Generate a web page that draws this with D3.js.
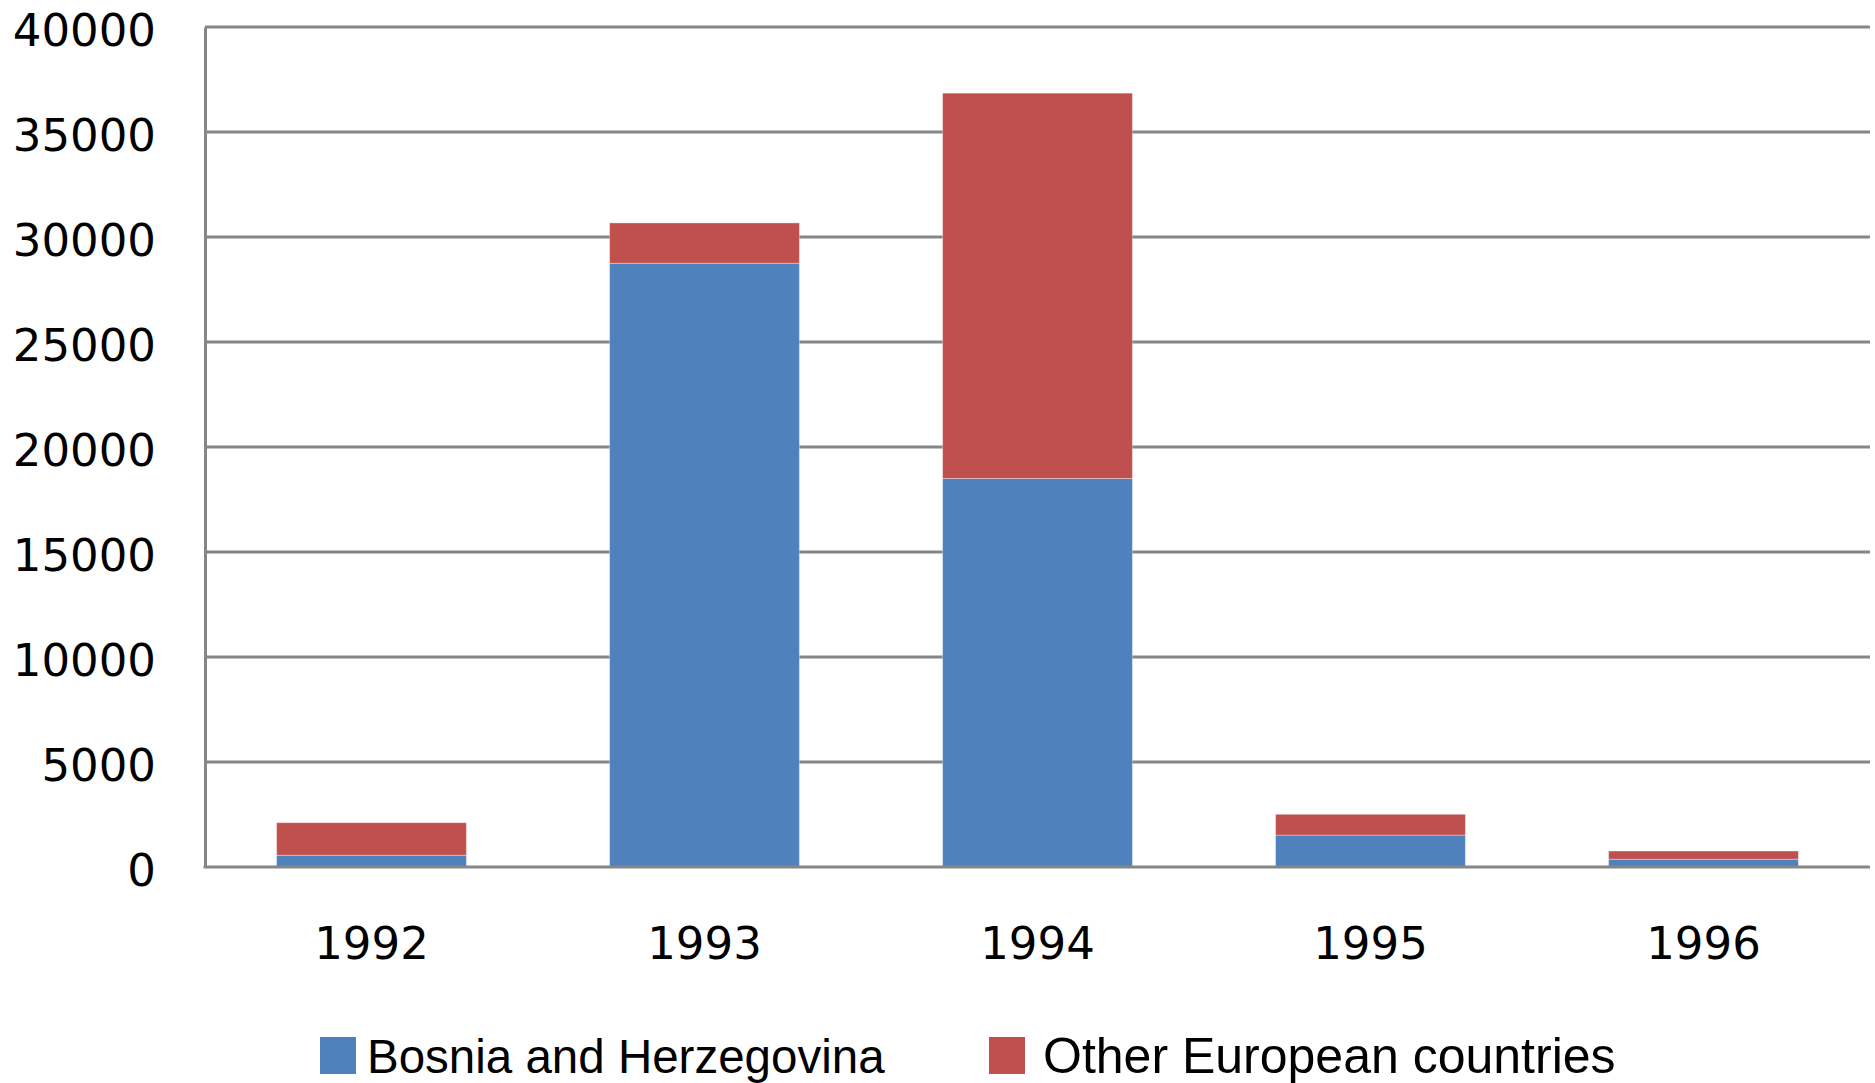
<!DOCTYPE html>
<html>
<head>
<meta charset="utf-8">
<script src="https://cdn.jsdelivr.net/npm/d3@7"></script>
<style>
  body { margin: 0; background: #fff; }
  .tick text { font-family: 'DejaVu Sans', sans-serif; }
</style>
</head>
<body>
<div id="graf"></div>
<script>
// datos del grafico
const years = ['1992', '1993', '1994', '1995', '1996']
const bosnia = [560, 28750, 18500, 1520, 370]
const otherEurope = [1550, 1920, 18350, 990, 390]
const seriesNames = ['Bosnia and Herzegovina', 'Other European countries']
const seriesColors = ['#4F81BD', '#C0504D']
const yTicks = [0, 5000, 10000, 15000, 20000, 25000, 30000, 35000, 40000]

const ancho_total = 1875, alto_total = 1083
const margen = { superior: 27, izquierdo: 205, derecho: 5, inferior: 216 }
const ancho = ancho_total - margen.izquierdo - margen.derecho
const alto = alto_total - margen.superior - margen.inferior

const svg = d3.select('#graf').append('svg')
  .attr('width', ancho_total)
  .attr('height', alto_total)

const g = svg.append('g')
  .attr('transform', `translate(${margen.izquierdo}, ${margen.superior})`)

const x = d3.scaleBand().domain(years).range([0, ancho]).paddingInner(0.43).paddingOuter(0.215)
const y = d3.scaleLinear().domain([0, 40000]).range([alto, 0])

// lineas de cuadricula
g.append('g')
  .selectAll('line')
  .data(yTicks.filter(d => d > 0))
  .join('line')
  .attr('x1', 0).attr('x2', ancho)
  .attr('y1', d => y(d)).attr('y2', d => y(d))
  .attr('stroke', '#868686').attr('stroke-width', 3)

// apilado
const table = years.map((yr, i) => ({ year: yr, b: bosnia[i], o: otherEurope[i] }))
const stack = d3.stack().keys(['b', 'o'])(table)

g.append('g')
  .selectAll('g')
  .data(stack)
  .join('g')
  .attr('fill', (d, i) => seriesColors[i])
  .selectAll('rect')
  .data(d => d)
  .join('rect')
  .attr('x', d => x(d.data.year))
  .attr('width', x.bandwidth())
  .attr('y', d => y(d[1]))
  .attr('height', d => y(d[0]) - y(d[1]))
  .attr('stroke', 'rgba(255,255,255,0.35)')
  .attr('stroke-width', 1)

// eje Y
const yAxis = g.append('g')
  .call(d3.axisLeft(y).tickValues(yTicks).tickSize(0).tickPadding(49).tickFormat(d3.format('d')))
yAxis.select('.domain').attr('stroke', '#868686').attr('stroke-width', 3)
yAxis.selectAll('text').attr('font-size', 45).attr('fill', '#000').attr('dy', '0.42em')

// eje X
const xAxis = g.append('g')
  .attr('transform', `translate(0, ${alto})`)
  .call(d3.axisBottom(x).tickSize(0).tickPadding(60))
xAxis.select('.domain').attr('stroke', '#868686').attr('stroke-width', 3)
  .attr('d', `M-1.5,0H${ancho}`)
xAxis.selectAll('text').attr('font-size', 45).attr('fill', '#000')

// leyenda
const legendX = [320, 989]
const legendSize = [47.5, 50]
const leyenda = svg.append('g')
  .selectAll('g')
  .data(seriesNames)
  .join('g')
  .attr('transform', (d, i) => `translate(${legendX[i]}, 1037)`)
leyenda.append('rect')
  .attr('width', 36).attr('height', 37)
  .attr('fill', (d, i) => seriesColors[i])
leyenda.append('text')
  .attr('x', (d, i) => i ? 54 : 47).attr('y', 36)
  .attr('font-family', 'Liberation Sans, Arial, sans-serif')
  .attr('font-size', (d, i) => legendSize[i])
  .text(d => d)
</script>
</body>
</html>
